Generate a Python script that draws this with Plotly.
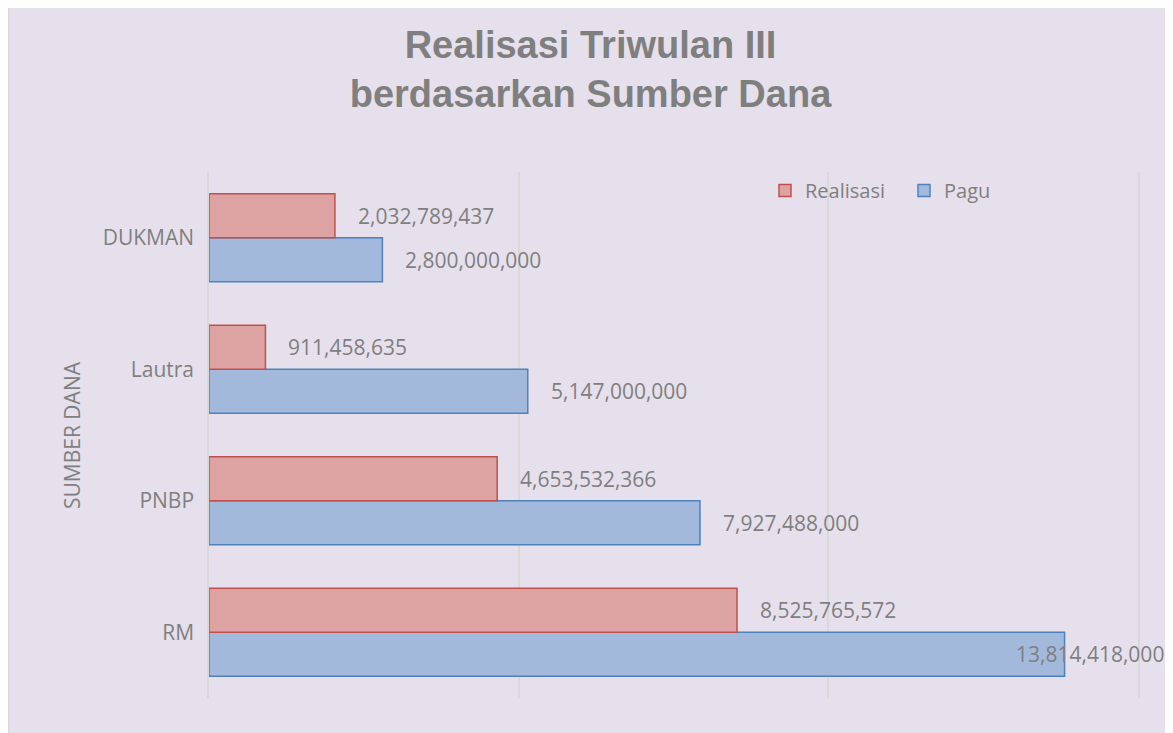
import plotly.graph_objects as go

categories = ["RM", "PNBP", "Lautra", "DUKMAN"]
pagu = [13814418000, 7927488000, 5147000000, 2800000000]
realisasi = [8525765572, 4653532366, 911458635, 2032789437]

title_text = "Realisasi Triwulan III<br>berdasarkan Sumber Dana"
axis_title = "SUMBER DANA"
x_max = 15e9

FONT = "Open Sans"
GRAY = "#7F7F7F"
BG = "#E6E0EC"
GRID = "#D9D9D9"

fig = go.Figure()
fig.add_trace(go.Bar(
    y=categories, x=pagu, orientation="h", name="Pagu",
    marker=dict(color="#A2B9DC", line=dict(color="#4F81BD", width=1.5)),
))
fig.add_trace(go.Bar(
    y=categories, x=realisasi, orientation="h", name="Realisasi",
    marker=dict(color="#DCA3A2", line=dict(color="#C0504D", width=1.5)),
))

annotations = []
for series, shift in ((realisasi, -22), (pagu, 22)):
    for cat, v in zip(categories, series):
        label = f"{v:,.0f}"
        if v > 0.85 * x_max:
            ann = dict(x=x_max, xanchor="right", xshift=28)
        else:
            ann = dict(x=v, xanchor="left", xshift=21)
        ann.update(y=cat, yshift=-shift, text=label, showarrow=False,
                   yanchor="middle", xref="x", yref="y",
                   font=dict(family=FONT, size=21, color=GRAY))
        annotations.append(ann)

# page is offset by the 8px body margin of the html page
W, H = 1165, 725
ml, mr, mt, mb = 201, 35, 164, 35
pw, ph = W - ml - mr, H - mt - mb

def px_x(p):
    return (p - ml) / pw

def px_y(p):
    return (H - mb - p) / ph

annotations.append(dict(
    text=axis_title, textangle=-90, xref="paper", yref="paper",
    x=px_x(64), y=0.5, xanchor="center", yanchor="middle", showarrow=False,
    font=dict(family=FONT, size=21, color=GRAY)))

shapes = [
    dict(type="line", xref="paper", yref="paper", layer="below",
         x0=px_x(0.75), x1=px_x(0.75), y0=px_y(H + 5), y1=px_y(0),
         line=dict(color=GRID, width=1.5)),
]

fig.update_layout(
    width=W, height=H,
    margin=dict(l=ml, r=mr, t=mt, b=mb),
    paper_bgcolor=BG, plot_bgcolor=BG,
    barmode="group", bargap=0.33, bargroupgap=0,
    title=dict(text=title_text, x=0.5, xref="container", xanchor="center",
               y=1 - 50 / H, yref="container", yanchor="middle",
               font=dict(family="Liberation Sans", size=38, color=GRAY,
                         weight="bold")),
    font=dict(family=FONT, size=21, color=GRAY),
    legend=dict(orientation="h", traceorder="reversed",
                x=px_x(757), y=px_y(163), xanchor="left", yanchor="top",
                font=dict(family=FONT, size=20, color=GRAY),
                bgcolor="rgba(0,0,0,0)", itemwidth=30,
                entrywidth=94, entrywidthmode="pixels"),
    xaxis=dict(range=[0, x_max], dtick=5e9, showticklabels=False,
               showgrid=True, gridcolor=GRID, gridwidth=1.5,
               zeroline=False, showline=False, fixedrange=True),
    yaxis=dict(categoryorder="array", categoryarray=categories,
               showgrid=False, zeroline=False,
               showline=True, mirror=True, linecolor=GRID, linewidth=1.5,
               ticks="", ticklabelstandoff=9,
               tickfont=dict(family=FONT, size=21, color=GRAY)),
    annotations=annotations,
    shapes=shapes,
    showlegend=True,
)

fig.write_html("out.html")
